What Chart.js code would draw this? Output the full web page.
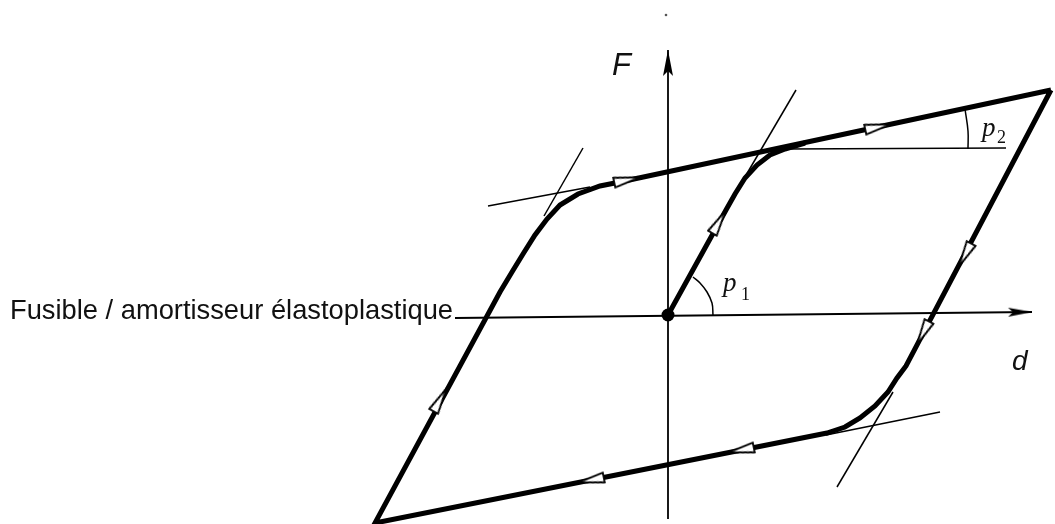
<!DOCTYPE html>
<html><head><meta charset="utf-8">
<script src="https://cdn.jsdelivr.net/npm/chart.js@4.4.1/dist/chart.umd.min.js"></script>
<style>html,body{margin:0;padding:0;background:#fff;}#wrap{width:1055px;height:524px;position:relative;}</style>
</head><body><div id="wrap"><canvas id="c"></canvas></div>
<script>
// ---- data (d = displacement, F = force, arbitrary units) ----
const loopD = [3.83, 2.38, 2.29, 2.20, 2.07, 1.92, 1.77, 1.59, -2.93, -1.68, -1.56, -1.45, -1.33, -1.21, -1.08, -0.90, -0.68, -0.48, 3.83];
const loopF = [2.25, -0.51, -0.63, -0.77, -0.91, -1.03, -1.12, -1.18, -2.08, 0.23, 0.43, 0.61, 0.80, 0.96, 1.10, 1.21, 1.29, 1.33, 2.25];
const initD = [0, 0.58, 0.67, 0.77, 0.89, 1.02, 1.17, 1.37];
const initF = [0, 1.05, 1.21, 1.37, 1.50, 1.60, 1.66, 1.72];
// thin construction lines (start / end)
const guideD1 = [-1.80, -1.24, 0.74, 1.18, 1.58, 1.69];
const guideF1 = [1.09, 0.99, 1.33, 1.66, -1.20, -1.72];
const guideD2 = [-0.78, -0.85, 1.28, 3.38, 2.72, 2.25];
const guideF2 = [1.28, 1.67, 2.25, 1.67, -0.97, -0.77];
// angle arcs
const arcP1D = [0.45, 0.44, 0.39, 0.32, 0.25];
const arcP1F = [0, 0.12, 0.23, 0.32, 0.38];
const arcP2D = [3.00, 3.00, 2.97];
const arcP2F = [1.66, 1.84, 2.06];
// axes
const axisXD = [-2.13, 3.64];
const axisXF = [-0.03, 0.03];
const axisYD = [0, 0];
const axisYF = [-2.04, 2.65];
// direction arrows on the loop (position and the point they head toward)
const arrowD = [2.10, -0.41, 0.51, 2.97, 2.55, 0.73, -0.77, -2.28];
const arrowF = [1.88, 1.35, 0.93, 0.60, -0.18, -1.35, -1.65, -0.85];
const arrowToD = [3.83, 3.83, 0.58, 2.38, 2.38, -2.93, -2.93, -1.68];
const arrowToF = [2.25, 2.25, 1.05, -0.51, -0.51, -2.08, -2.08, 0.23];
const originD = [0], originF = [0];
const speckD = [-0.02], speckF = [3.00];

const pts = (xs, ys) => xs.map((x, i) => ({x, y: ys[i]}));

function openArrow(len, wid) {
  const c = document.createElement('canvas');
  c.width = len + 4; c.height = wid + 4;
  const g = c.getContext('2d');
  g.beginPath(); g.moveTo(2, 2); g.lineTo(len + 2, wid / 2 + 2); g.lineTo(2, wid + 2); g.closePath();
  g.fillStyle = '#fff'; g.fill(); g.lineWidth = 1.8; g.strokeStyle = '#000'; g.stroke();
  return c;
}
function solidHead(len, wid) {
  const c = document.createElement('canvas');
  c.width = 2 * len + 2; c.height = wid + 2;
  const g = c.getContext('2d');
  g.beginPath(); g.moveTo(1, 1); g.lineTo(len + 1, wid / 2 + 1); g.lineTo(1, wid + 1); g.lineTo(6, wid / 2 + 1); g.closePath();
  g.fillStyle = '#000'; g.fill();
  return c;
}
const arrowImg = openArrow(26, 10);
const headX = solidHead(24, 9);
const headY = solidHead(26, 10);

function angleTo(chart, x0, y0, x1, y1) {
  const sx = chart.scales.x, sy = chart.scales.y;
  const dx = sx.getPixelForValue(x1) - sx.getPixelForValue(x0);
  const dy = sy.getPixelForValue(y1) - sy.getPixelForValue(y0);
  return Math.atan2(dy, dx) * 180 / Math.PI;
}

const line = (data, w, extra) => Object.assign({
  data, showLine: true, pointRadius: 0, borderColor: '#000', backgroundColor: '#000',
  borderWidth: w, tension: 0, clip: false, order: 5, borderJoinStyle: 'miter'
}, extra || {});

const datasets = [];
datasets.push({
  data: pts(arrowD, arrowF), showLine: false, pointStyle: arrowImg, pointRadius: 10, clip: false, order: 0,
  rotation: (ctx) => { const i = ctx.dataIndex; return angleTo(ctx.chart, arrowD[i], arrowF[i], arrowToD[i], arrowToF[i]); }
});
datasets.push({ data: pts(originD, originF), showLine: false, pointStyle: 'circle', pointRadius: 6.5,
  backgroundColor: '#000', borderColor: '#000', borderWidth: 0, clip: false, order: 0 });
datasets.push({ data: pts(speckD, speckF), showLine: false, pointRadius: 1.3, backgroundColor: '#555', borderWidth: 0, clip: false, order: 0 });
datasets.push({ data: [{x: axisXD[1], y: axisXF[1]}], showLine: false, pointStyle: headX, pointRadius: 10, clip: false, order: 1,
  rotation: (ctx) => angleTo(ctx.chart, axisXD[0], axisXF[0], axisXD[1], axisXF[1]) });
datasets.push({ data: [{x: axisYD[1], y: axisYF[1]}], showLine: false, pointStyle: headY, pointRadius: 10, clip: false, order: 1,
  rotation: (ctx) => angleTo(ctx.chart, axisYD[0], axisYF[0], axisYD[1], axisYF[1]) });
datasets.push(line(pts(loopD, loopF), 5, {order: 2}));
datasets.push(line(pts(initD, initF), 5, {order: 2}));
datasets.push(line(pts(axisXD, axisXF), 1.8, {order: 3}));
datasets.push(line(pts(axisYD, axisYF), 1.8, {order: 3}));
guideD1.forEach((d, i) => datasets.push(line([{x: d, y: guideF1[i]}, {x: guideD2[i], y: guideF2[i]}], 1.5, {order: 4})));
datasets.push(line(pts(arcP1D, arcP1F), 1.5, {tension: 0.4, order: 4}));
datasets.push(line(pts(arcP2D, arcP2F), 1.5, {tension: 0.4, order: 4}));

const textLabels = [
  {text: 'Fusible / amortisseur élastoplastique', d: -2.15, F: -0.04, font: '27.3px "Liberation Sans", Arial, sans-serif', align: 'right'},
  {text: 'F', d: -0.56, F: 2.40, font: 'italic 31px "Liberation Sans", Arial, sans-serif', align: 'left'},
  {text: 'd', d: 3.44, F: -0.55, font: 'italic 28px "Liberation Sans", Arial, sans-serif', align: 'left'},
  {text: 'p', d: 0.55, F: 0.24, font: 'italic 27px "Liberation Serif", "Times New Roman", serif', align: 'left'},
  {text: '1', d: 0.73, F: 0.15, font: '18px "Liberation Serif", "Times New Roman", serif', align: 'left'},
  {text: 'p', d: 3.14, F: 1.79, font: 'italic 27px "Liberation Serif", "Times New Roman", serif', align: 'left'},
  {text: '2', d: 3.29, F: 1.72, font: '18px "Liberation Serif", "Times New Roman", serif', align: 'left'}
];

const textPlugin = {
  id: 'texts',
  afterDatasetsDraw(chart) {
    const g = chart.ctx, sx = chart.scales.x, sy = chart.scales.y;
    g.save();
    g.fillStyle = '#111';
    g.textBaseline = 'alphabetic';
    textLabels.forEach(t => {
      g.font = t.font; g.textAlign = t.align;
      g.fillText(t.text, sx.getPixelForValue(t.d), sy.getPixelForValue(t.F));
    });
    g.restore();
  }
};

new Chart(document.getElementById('c'), {
  type: 'scatter',
  data: {datasets},
  options: {
    responsive: true, maintainAspectRatio: false, animation: false, events: [],
    layout: {padding: 0, autoPadding: false},
    plugins: {legend: {display: false}, tooltip: {enabled: false}},
    scales: {
      x: {type: 'linear', display: false, min: -6.68, max: 3.87},
      y: {type: 'linear', display: false, min: -2.09, max: 3.15}
    }
  },
  plugins: [textPlugin]
});
</script></body></html>
